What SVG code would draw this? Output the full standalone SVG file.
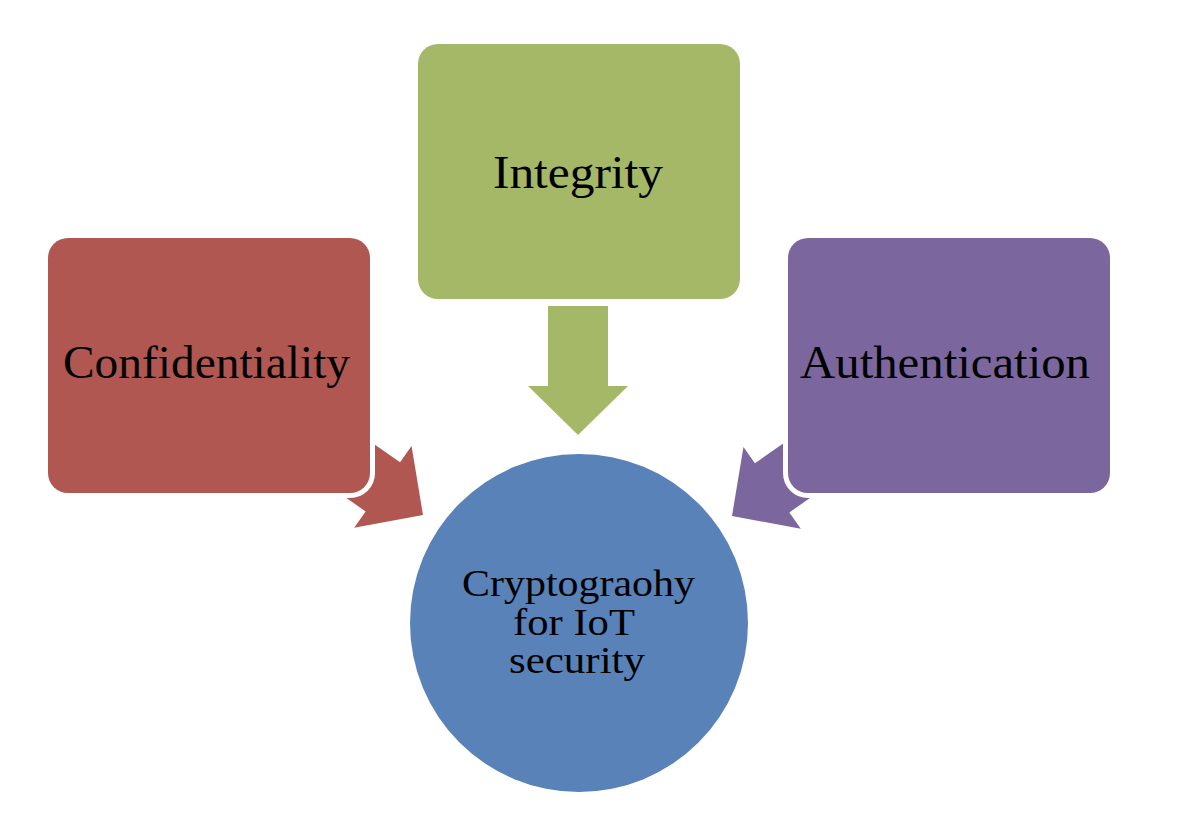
<svg xmlns="http://www.w3.org/2000/svg" width="1180" height="834" viewBox="0 0 1180 834">
<style>
.box{stroke:#ffffff;stroke-width:10;paint-order:stroke}
.lbl{font-family:"Liberation Serif","DejaVu Serif",serif;fill:#000000;text-anchor:middle}
.big{font-size:46px}
.small{font-size:38px}
</style>
<defs>
<path id="arr" d="M0,0 L-49,-50 L-49,-30 L-129,-30 L-129,30 L-49,30 L-49,50 Z"/>
</defs>
<rect width="1180" height="834" fill="#ffffff"/>
<g id="connectors">
<use href="#arr" fill="#A4B868" transform="translate(578,435) rotate(90)"/>
<use href="#arr" fill="#B15751" transform="translate(423,515) rotate(35)"/>
<use href="#arr" fill="#7B679E" transform="translate(732,516) rotate(145)"/>
</g>
<g id="integrity">
<rect class="box" x="418" y="44" width="322" height="255" rx="20" fill="#A4B868"/>
<text class="lbl big" x="578" y="188" textLength="170" lengthAdjust="spacingAndGlyphs">Integrity</text>
</g>
<g id="confidentiality">
<rect class="box" x="48" y="238" width="322" height="255" rx="20" fill="#B15751"/>
<text class="lbl big" x="206.5" y="378" textLength="287" lengthAdjust="spacingAndGlyphs">Confidentiality</text>
</g>
<g id="authentication">
<rect class="box" x="788" y="238" width="322" height="255" rx="20" fill="#7B679E"/>
<text class="lbl big" x="945" y="378" textLength="290" lengthAdjust="spacingAndGlyphs">Authentication</text>
</g>
<g id="crypto">
<circle cx="579" cy="623" r="169" fill="#5882B8"/>
<text class="lbl small" x="578.5" y="596" textLength="233" lengthAdjust="spacingAndGlyphs">Cryptograohy</text>
<text class="lbl small" x="574" y="635" textLength="122" lengthAdjust="spacingAndGlyphs">for IoT</text>
<text class="lbl small" x="577" y="673" textLength="136" lengthAdjust="spacingAndGlyphs">security</text>
</g>
</svg>
